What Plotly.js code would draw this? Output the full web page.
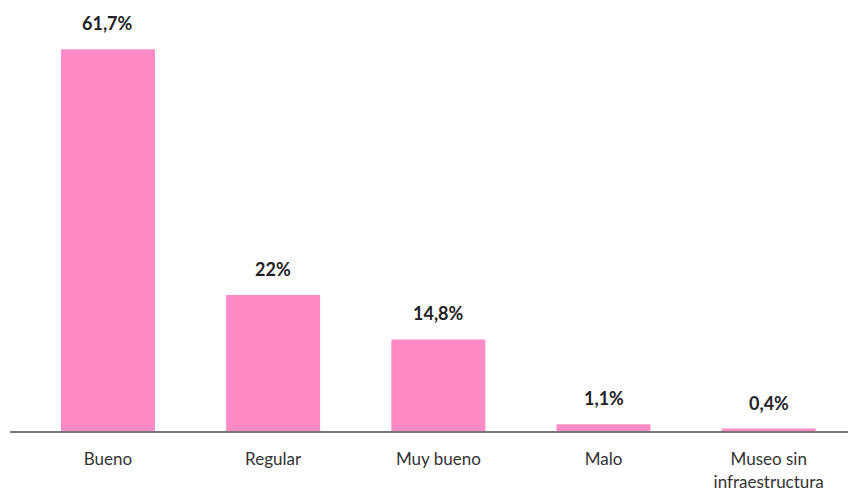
<!DOCTYPE html>
<html>
<head>
<meta charset="utf-8">
<script src="https://cdn.plot.ly/plotly-3.0.1.min.js"></script>
<style>html,body{margin:0;padding:0;background:#fff;}#chart{width:848px;height:491px;}</style>
</head>
<body>
<div id="chart"></div>
<script>
const categories = ["Bueno", "Regular", "Muy bueno", "Malo", "Museo sin<br>infraestructura"];
const values = [61.7, 22, 14.8, 1.1, 0.4];
const labels = ["61,7%", "22%", "14,8%", "1,1%", "0,4%"];

const trace = {
  type: "bar",
  x: categories,
  y: values,
  marker: {color: "#FE8BC6"},
  hoverinfo: "none"
};

const annotations = categories.map((c, i) => ({
  x: c, y: values[i], text: "<b>" + labels[i] + "</b>",
  showarrow: false, yanchor: "bottom", yshift: 13,
  font: {family: "Lato, 'Open Sans', sans-serif", size: 18, color: "#222"}
}));

const layout = {
  width: 848, height: 491,
  margin: {l: 10, r: 0, t: 0, b: 60},
  paper_bgcolor: "#fff", plot_bgcolor: "#fff",
  bargap: 0.431,
  showlegend: false,
  xaxis: {
    range: [-0.593, 4.480],
    showline: true, linecolor: "#777", linewidth: 2,
    showgrid: false, zeroline: false, ticks: "",
    ticklabelstandoff: 12,
    tickfont: {family: "Lato, 'Open Sans', sans-serif", size: 17, color: "#333"}
  },
  yaxis: {
    range: [0, 69.67], visible: false, showgrid: false, zeroline: false, fixedrange: true
  },
  annotations: annotations
};

Plotly.newPlot("chart", [trace], layout, {displayModeBar: false, staticPlot: true});
</script>
</body>
</html>
